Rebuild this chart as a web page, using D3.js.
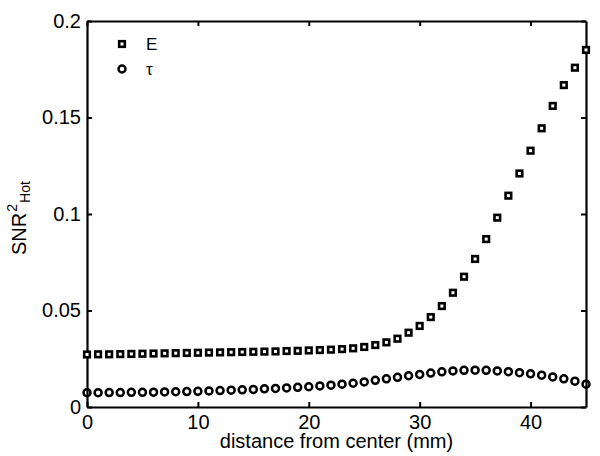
<!DOCTYPE html>
<html>
<head>
<meta charset="utf-8">
<script src="https://cdn.jsdelivr.net/npm/d3@7"></script>
<style>
  body { margin: 0; background: #fff; }
  text { font-family: "Liberation Sans", Arial, sans-serif; fill: #000; }
</style>
</head>
<body>
<div id="chart"></div>
<script>
// data, distance 0..45 mm
const distance = d3.range(0, 46);
const snrE = [0.0272, 0.0273, 0.0273, 0.0274, 0.0275, 0.0276, 0.0277, 0.0278, 0.0279, 0.0280,
  0.0281, 0.0282, 0.0283, 0.0284, 0.0285, 0.0286, 0.0287, 0.0288, 0.0290, 0.0291,
  0.0293, 0.0295, 0.0297, 0.0300, 0.0304, 0.0311, 0.0321, 0.0335, 0.0354, 0.0385,
  0.0420, 0.0466, 0.0523, 0.0592, 0.0675, 0.0767, 0.0870, 0.0981, 0.1095, 0.1210,
  0.1328, 0.1444, 0.1560, 0.1668, 0.1758, 0.1850];
const snrTau = [0.0074, 0.0074, 0.0075, 0.0075, 0.0076, 0.0076, 0.0077, 0.0078, 0.0079, 0.0080,
  0.0081, 0.0083, 0.0085, 0.0087, 0.0089, 0.0091, 0.0094, 0.0096, 0.0099, 0.0102,
  0.0105, 0.0109, 0.0113, 0.0118, 0.0123, 0.0130, 0.0138, 0.0146, 0.0154, 0.0162,
  0.0169, 0.0176, 0.0182, 0.0187, 0.0190, 0.0191, 0.0190, 0.0187, 0.0183, 0.0178,
  0.0172, 0.0165, 0.0156, 0.0146, 0.0134, 0.0118];
const xTicks = [0, 10, 20, 30, 40];
const yTicks = [0, 0.05, 0.1, 0.15, 0.2];
const legendNames = ["E", "\u03c4"];

const width = 600, height = 456;
const margin = {top: 21, right: 14, bottom: 49, left: 87};
const innerWidth = width - margin.left - margin.right;
const innerHeight = height - margin.top - margin.bottom;

const x = d3.scaleLinear().domain([0, 45]).range([0, innerWidth]);
const y = d3.scaleLinear().domain([0, 0.2]).range([innerHeight, 0]);

const svg = d3.select("#chart").append("svg")
  .attr("width", width)
  .attr("height", height);

const g = svg.append("g")
  .attr("transform", "translate(" + margin.left + "," + margin.top + ")");

// axes (matlab style box, ticks inside)
const fmtY = d => d === 0 ? "0" : String(d);
g.append("g")
  .attr("transform", "translate(0," + innerHeight + ")")
  .call(d3.axisBottom(x).tickValues(xTicks).tickSizeInner(-5).tickSizeOuter(0).tickPadding(8))
  .call(a => a.selectAll("text").attr("font-size", 20));
g.append("g")
  .call(d3.axisLeft(y).tickValues(yTicks).tickFormat(fmtY).tickSizeInner(-5).tickSizeOuter(0).tickPadding(6))
  .call(a => a.selectAll("text").attr("font-size", 20));
g.append("g")
  .call(d3.axisTop(x).tickValues(xTicks).tickSizeInner(-5).tickSizeOuter(0).tickFormat(""));
g.append("g")
  .attr("transform", "translate(" + innerWidth + ",0)")
  .call(d3.axisRight(y).tickValues(yTicks).tickSizeInner(-5).tickSizeOuter(0).tickFormat(""));
g.selectAll(".domain").attr("stroke-width", 2.2);
g.selectAll(".tick line").attr("stroke-width", 2);

// E series squares
g.selectAll("rect.e")
  .data(distance)
  .join("rect")
  .attr("class", "e")
  .attr("x", d => x(d) - 2.8)
  .attr("y", (d, i) => y(snrE[i]) - 2.8)
  .attr("width", 5.6)
  .attr("height", 5.6)
  .attr("fill", "#fff")
  .attr("stroke", "#000")
  .attr("stroke-width", 2.6);

// tau series circles
g.selectAll("circle.t")
  .data(distance)
  .join("circle")
  .attr("class", "t")
  .attr("cx", d => x(d))
  .attr("cy", (d, i) => y(snrTau[i]))
  .attr("r", 3.5)
  .attr("fill", "none")
  .attr("stroke", "#000")
  .attr("stroke-width", 2.5);

// legend
const leg = svg.append("g").attr("transform", "translate(122,44)");
leg.append("rect").attr("x", -2.8).attr("y", -2.8).attr("width", 5.6).attr("height", 5.6)
  .attr("fill", "#fff").attr("stroke", "#000").attr("stroke-width", 2.6);
leg.append("circle").attr("cx", 0).attr("cy", 25).attr("r", 3.5)
  .attr("fill", "none").attr("stroke", "#000").attr("stroke-width", 2.5);
leg.selectAll("text")
  .data(legendNames)
  .join("text")
  .attr("x", 24)
  .attr("y", (d, i) => i * 25 + 6)
  .attr("font-size", 17)
  .text(d => d);

// axis labels
svg.append("text")
  .attr("x", margin.left + innerWidth / 2)
  .attr("y", 448)
  .attr("text-anchor", "middle")
  .attr("font-size", 20)
  .text("distance from center (mm)");

const yl = svg.append("text")
  .attr("transform", "translate(26,255) rotate(-90)")
  .attr("font-size", 20);
yl.append("tspan").text("SNR");
yl.append("tspan").attr("font-size", 14).attr("dx", 1).attr("dy", -9).text("2");
yl.append("tspan").attr("font-size", 14).attr("dx", 1).attr("dy", 13).text("Hot");
</script>
</body>
</html>
